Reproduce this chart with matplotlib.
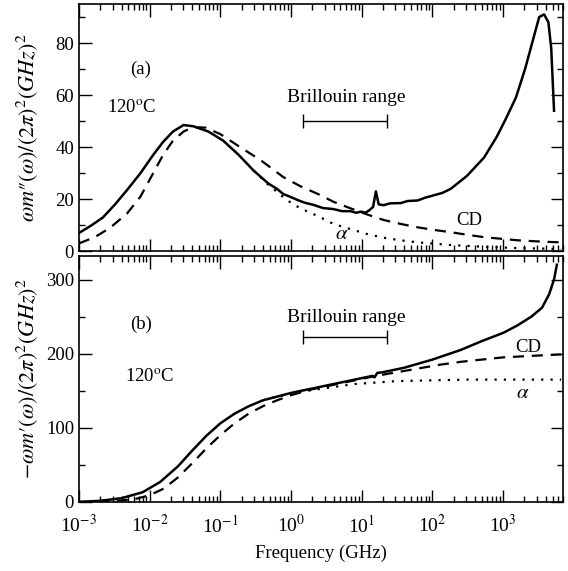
import matplotlib.pyplot as plt
import numpy as np

plt.rcParams.update({'font.family': 'Liberation Serif', 'mathtext.fontset': 'stix',
                     'font.size': 13.5})

# ---- panel (a): omega m''  (log10 of frequency in GHz, value) ----
la_meas = [-3.00, -2.82, -2.66, -2.49, -2.32, -2.13, -1.95, -1.81, -1.67, -1.52, -1.38,
           -1.17, -0.96, -0.74, -0.53, -0.32, -0.20, -0.11, -0.02, 0.11, 0.20, 0.32, 0.45,
           0.60, 0.72, 0.84, 0.92, 0.99, 1.05, 1.10, 1.16, 1.20, 1.24, 1.31, 1.40, 1.55,
           1.65, 1.79, 1.90, 2.02, 2.14, 2.26, 2.49, 2.73, 2.91, 3.04, 3.18, 3.31, 3.43,
           3.51, 3.58, 3.64, 3.68, 3.72]
va_meas = [7, 10, 13, 18, 23.5, 30, 37, 42, 46, 48.5, 48, 46, 42.5, 37, 31, 26, 24, 22,
           21, 19.5, 18.6, 17.8, 16.6, 16.2, 15.4, 15.4, 14.8, 15.2, 14.8, 15.6, 17, 23,
           18, 17.7, 18.4, 18.5, 19.3, 19.5, 20.6, 21.5, 22.4, 24, 29, 36, 44, 51, 59, 70,
           82, 90, 91, 88, 78, 54]

la_cd = [-3.00, -2.77, -2.56, -2.32, -2.13, -1.95, -1.81, -1.67, -1.52, -1.38, -1.21, -1.00,
         -0.72, -0.43, -0.11, 0.13, 0.38, 0.60, 0.84, 1.09, 1.31, 1.55, 1.79, 2.02, 2.26,
         2.50, 2.73, 2.97, 3.21, 3.54, 3.82]
va_cd = [3, 5.5, 9, 14.5, 21, 30, 37, 42.5, 46, 47.7, 47.5, 45, 40, 35, 28.5, 25, 22, 19,
         16.5, 14, 12, 10.5, 9.2, 8.2, 7.3, 6.3, 5.4, 4.8, 4.2, 3.7, 3.4]

la_alpha = [-0.53, -0.32, -0.05, 0.13, 0.38, 0.60, 0.84, 1.09, 1.31, 1.55, 1.79, 2.26,
            2.73, 3.21, 3.82]
va_alpha = [31, 25.5, 19.5, 16.5, 13.5, 10.5, 8.5, 6.5, 5.2, 4.2, 3.4, 2.4, 1.7, 1.2, 0.9]

# ---- panel (b): -omega m' ----
lb_meas = [-3.0, -2.7, -2.4, -2.1, -1.85, -1.6, -1.4, -1.2, -1.0, -0.8, -0.6, -0.4, -0.2,
           0.0, 0.3, 0.6, 0.9, 1.15, 1.18, 1.22, 1.3, 1.6, 2.0, 2.4, 2.7, 3.0, 3.2, 3.4,
           3.55, 3.65, 3.72, 3.76]
vb_meas = [0, 1.5, 5, 13, 27, 48, 69, 89, 106, 119, 129, 137, 142, 147, 153, 159, 165, 170,
           168, 174, 175, 181, 192, 205, 217, 228, 238, 250, 262, 280, 300, 320]

lb_cd = [-3.0, -2.5, -2.2, -2.0, -1.8, -1.6, -1.4, -1.2, -1.0, -0.8, -0.6, -0.4, -0.2, 0.0,
         0.3, 0.6, 0.9, 1.2, 1.5, 1.8, 2.1, 2.4, 2.7, 3.0, 3.4, 3.82]
vb_cd = [0, 1, 4, 9, 18, 33, 52, 72, 90, 106, 119, 129, 137, 144, 152, 158, 164, 170, 175,
         180, 185, 189, 192, 195, 197, 199]

lb_alpha = [-0.4, -0.2, 0.0, 0.3, 0.6, 0.9, 1.2, 1.5, 2.0, 2.5, 3.0, 3.82]
vb_alpha = [137, 142, 146, 151, 155, 159, 161, 163, 164, 165, 165, 165]

brillouin = [1.5, 23]  # GHz
xticks = [1e-3, 1e-2, 1e-1, 1e0, 1e1, 1e2, 1e3]
xticklabels = ['10$^{-3}$', '10$^{-2}$', '10$^{-1}$', '10$^{0}$', '10$^{1}$', '10$^{2}$', '10$^{3}$']

fig = plt.figure(figsize=(5.68, 5.71), dpi=100)
ax1 = fig.add_axes([0.139, 0.560, 0.852, 0.433])
ax2 = fig.add_axes([0.139, 0.121, 0.852, 0.431])

f = lambda l: 10 ** np.array(l)

ax1.plot(f(la_alpha), va_alpha, color='black', lw=1.6, ls=(0, (1, 3.2)))
ax1.plot(f(la_cd), va_cd, color='black', lw=1.6, ls=(0, (5, 3.5)))
ax1.plot(f(la_meas), va_meas, color='black', lw=1.8)

ax2.plot(f(lb_alpha), vb_alpha, color='black', lw=1.6, ls=(0, (1, 3.2)))
ax2.plot(f(lb_cd), vb_cd, color='black', lw=1.6, ls=(0, (5, 3.5)))
ax2.plot(f(lb_meas), vb_meas, color='black', lw=1.8)

for ax in (ax1, ax2):
    ax.set_xscale('log')
    ax.set_xlim(1e-3, 7000)
    ax.set_xticks(xticks)
    ax.tick_params(which='both', direction='in', top=True, right=True, width=1)
    ax.tick_params(which='major', length=9)
    ax.tick_params(which='minor', length=4.5)
    ax.tick_params(axis='x', pad=9)
    for s in ax.spines.values():
        s.set_linewidth(1.2)

ax1.set_ylim(0, 95)
ax1.set_yticks([0, 20, 40, 60, 80])
ax1.set_yticks([10, 30, 50, 70, 90], minor=True)
ax1.set_xticklabels([])
ax1.set_ylabel("$\\omega m\u2033(\\omega)/(2\\pi)^2(GHz)^2$", fontsize=16)

ax2.set_ylim(0, 332)
ax2.set_yticks([0, 100, 200, 300])
ax2.set_yticks([50, 150, 250], minor=True)
ax2.set_xticklabels(xticklabels, fontsize=14)
ax2.set_xlabel('Frequency (GHz)', labelpad=6)
ax2.set_ylabel("$-\\omega m\u2032(\\omega)/(2\\pi)^2(GHz)^2$", fontsize=16)
ax1.yaxis.set_label_coords(-0.08, 0.5)
ax2.yaxis.set_label_coords(-0.08, 0.5)

# annotations
bc = np.sqrt(brillouin[0] * brillouin[1])
berr = [[bc - brillouin[0]], [brillouin[1] - bc]]

ax1.text(7.5e-3, 70, '(a)', ha='center', va='center')
ax1.text(5.6e-3, 55, '120$^{\\rm o}$C', ha='center', va='center')
ax1.text(6, 59, 'Brillouin range', ha='center', va='center', fontsize=14)
ax1.errorbar(bc, 50, xerr=berr, fmt='none', ecolor='black', elinewidth=1, capsize=5, capthick=1)
ax1.text(330, 12, 'CD', ha='center', va='center')
ax1.text(5.2, 6.5, r'$\alpha$', ha='center', va='center', fontsize=15)

ax2.text(7.5e-3, 239, '(b)', ha='center', va='center')
ax2.text(1.0e-2, 168, '120$^{\\rm o}$C', ha='center', va='center')
ax2.text(6, 249, 'Brillouin range', ha='center', va='center', fontsize=14)
ax2.errorbar(bc, 222, xerr=berr, fmt='none', ecolor='black', elinewidth=1, capsize=5, capthick=1)
ax2.text(2300, 208, 'CD', ha='center', va='center')
ax2.text(1900, 146, r'$\alpha$', ha='center', va='center', fontsize=15)

fig.savefig('out.png', dpi=100)
